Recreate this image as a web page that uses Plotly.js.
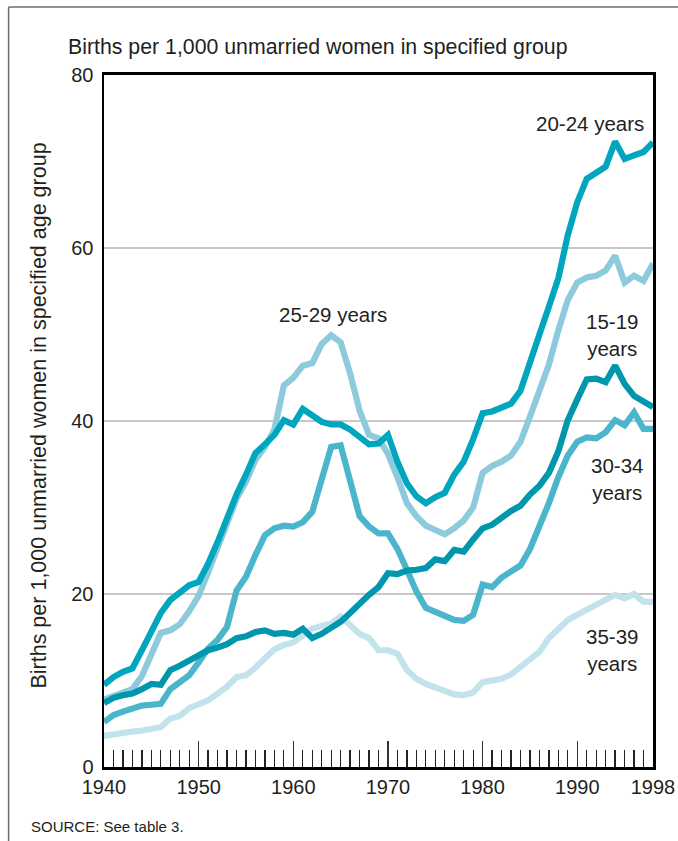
<!DOCTYPE html>
<html>
<head>
<meta charset="utf-8">
<script src="https://cdn.plot.ly/plotly-3.0.1.min.js"></script>
<style>
html,body{margin:0;padding:0;background:#fff;}
#chart{width:678px;height:841px;}
</style>
</head>
<body>
<div id="chart"></div>
<script>
// ---- data ----
const years = [];
for (let y = 1940; y <= 1998; y++) years.push(y);

const age15_19 = [7.4,8.0,8.3,8.5,9.0,9.6,9.5,11.2,11.7,12.3,13.0,13.5,13.8,14.2,14.9,15.1,15.6,15.8,15.4,15.5,15.3,16.0,14.9,15.4,16.1,16.8,17.8,18.9,19.9,20.8,22.4,22.3,22.7,22.8,23.0,24.0,23.8,25.1,24.9,26.3,27.6,28.0,28.9,29.6,30.2,31.5,32.5,34.0,36.5,40.1,42.5,44.8,44.9,44.5,46.4,44.3,42.9,42.2,41.6];
const age20_24 = [9.5,10.4,11.0,11.4,13.5,15.8,17.8,19.3,20.2,21.0,21.4,23.5,26.0,29.0,31.5,33.8,36.3,37.3,38.4,40.1,39.6,41.4,40.7,39.9,39.6,39.6,39.0,38.2,37.3,37.4,38.4,35.3,32.8,31.3,30.5,31.2,31.7,33.8,35.3,37.9,40.9,41.1,41.6,42.0,43.5,47.0,50.0,53.2,56.5,61.5,65.3,68.0,68.6,69.4,72.3,70.3,70.7,71.1,72.2];
const age25_29 = [7.8,8.2,8.5,9.0,10.5,12.8,15.5,15.8,16.5,18.0,19.8,22.5,25.5,28.5,31.0,33.0,35.5,37.0,39.0,44.1,45.0,46.4,46.7,48.9,49.9,49.1,45.5,41.2,38.4,38.0,36.2,33.5,30.5,29.0,27.9,27.4,26.9,27.6,28.5,30.0,34.0,34.8,35.3,36.0,37.6,40.5,43.5,46.5,50.5,54.0,56.0,56.6,56.8,57.4,59.1,56.0,56.8,56.2,58.2];
const age30_34 = [5.2,6.0,6.4,6.8,7.1,7.2,7.3,9.0,9.9,10.6,12.1,13.7,14.7,16.2,20.4,22.0,24.5,26.8,27.6,27.9,27.8,28.3,29.5,33.5,37.0,37.2,33.0,29.0,27.8,27.0,27.0,25.2,22.8,20.3,18.4,17.9,17.5,17.0,16.9,17.6,21.1,20.8,21.9,22.5,23.3,25.2,27.8,30.5,33.5,36.0,37.6,38.1,38.0,38.7,40.1,39.5,41.0,39.1,39.1];
const age35_39 = [3.6,3.8,3.9,4.1,4.2,4.4,4.6,5.6,5.9,6.8,7.2,7.7,8.5,9.3,10.4,10.6,11.5,12.6,13.6,14.1,14.4,15.2,16.0,16.3,16.6,17.4,16.5,15.4,14.9,13.5,13.5,13.1,11.2,10.2,9.6,9.2,8.9,8.4,8.3,8.6,9.8,10.0,10.2,10.7,11.5,12.3,13.3,14.9,16.0,17.0,17.6,18.2,18.8,19.3,19.9,19.5,20.0,19.1,19.1];

const xTickVals = [1940,1950,1960,1970,1980,1990,1998];
const xTickText = ['1940','1950','1960','1970','1980','1990','1998'];
const yTickVals = [0,20,40,60,80];

const seriesNames = ['35-39 years','25-29 years','30-34 years','20-24 years','15-19 years'];
const seriesData  = [age35_39, age25_29, age30_34, age20_24, age15_19];
const seriesColors = ['#c3e3ec','#8dcadb','#4bb5cb','#00a5be','#0096ad'];

// ---- traces ----
const traces = seriesData.map((d, i) => ({
  x: years, y: d, type: 'scatter', mode: 'lines', name: seriesNames[i],
  line: {color: seriesColors[i], width: 6.2, shape: 'linear'},
  hoverinfo: 'skip'
}));

const textColor = '#231f20';
const FONT = 'Liberation Sans, Arial, Helvetica, sans-serif';

const layout = {
  width: 678, height: 841,
  margin: {l: 103.5, r: 25, t: 75, b: 74},
  paper_bgcolor: '#ffffff', plot_bgcolor: '#ffffff',
  showlegend: false,
  font: {family: FONT, color: textColor, size: 20},
  title: {
    text: 'Births per 1,000 unmarried women in specified group',
    x: 68/678, xanchor: 'left', xref: 'container',
    y: 1 - 47/841, yanchor: 'middle', yref: 'container',
    font: {family: FONT, size: 21.3, color: textColor}
  },
  xaxis: {
    range: [1940, 1998],
    tickmode: 'array', tickvals: xTickVals, ticktext: xTickText,
    ticks: 'inside', ticklen: 26, tickwidth: 1.3, tickcolor: '#333',
    minor: {tickmode: 'linear', tick0: 1940, dtick: 1, ticks: 'inside', ticklen: 17, tickwidth: 1.3, tickcolor: '#222', showgrid: false},
    showgrid: false, zeroline: false,
    showline: true, linecolor: '#000', linewidth: 3, mirror: true,
    tickfont: {size: 20, color: textColor, family: FONT},
    fixedrange: true
  },
  yaxis: {
    range: [0, 80],
    tickmode: 'array', tickvals: yTickVals,
    ticks: '', showgrid: true, gridcolor: '#c8c8c8', gridwidth: 1.5,
    zeroline: false,
    showline: true, linecolor: '#000', linewidth: 2.5, mirror: true,
    tickfont: {size: 20, color: textColor, family: FONT},
    ticklabelstandoff: 4,
    fixedrange: true
  },
  shapes: [
    {type: 'line', xref: 'paper', yref: 'paper',
     x0: (8-103.5)/549.5, x1: (700-103.5)/549.5, y0: (767-7)/692, y1: (767-7)/692,
     line: {color: '#6d6d6d', width: 1.5}},
    {type: 'line', xref: 'paper', yref: 'paper',
     x0: (8-103.5)/549.5, x1: (8-103.5)/549.5, y0: (767-7)/692, y1: (767-860)/692,
     line: {color: '#6d6d6d', width: 1.5}}
  ],
  annotations: [
    {text: 'Births per 1,000 unmarried women in specified age group', textangle: -90,
     xref: 'paper', yref: 'paper', x: (38-103.5)/549.5, y: (767-416)/692,
     xanchor: 'center', yanchor: 'middle', showarrow: false,
     font: {size: 21.5, color: textColor, family: FONT}},
    {text: 'SOURCE: See table 3.', xref: 'paper', yref: 'paper',
     x: (28-103.5)/549.5, y: (767-826)/692, xanchor: 'left', yanchor: 'middle', showarrow: false,
     font: {size: 15, color: textColor, family: FONT}},
    {text: '20-24 years', x: 1997.3, y: 74.4, xanchor: 'right', yanchor: 'middle', showarrow: false,
     font: {size: 20.5, color: textColor, family: FONT}},
    {text: '25-29 years', x: 1964.2, y: 52.3, xanchor: 'center', yanchor: 'middle', showarrow: false,
     font: {size: 20.5, color: textColor, family: FONT}},
    {text: '15-19<br>years', x: 1993.7, y: 49.9, xanchor: 'center', yanchor: 'middle', showarrow: false,
     font: {size: 20.5, color: textColor, family: FONT}},
    {text: '30-34<br>years', x: 1994.2, y: 33.3, xanchor: 'center', yanchor: 'middle', showarrow: false,
     font: {size: 20.5, color: textColor, family: FONT}},
    {text: '35-39<br>years', x: 1993.7, y: 13.5, xanchor: 'center', yanchor: 'middle', showarrow: false,
     font: {size: 20.5, color: textColor, family: FONT}}
  ]
};

Plotly.newPlot('chart', traces, layout, {displayModeBar: false, staticPlot: true});
</script>
</body>
</html>
